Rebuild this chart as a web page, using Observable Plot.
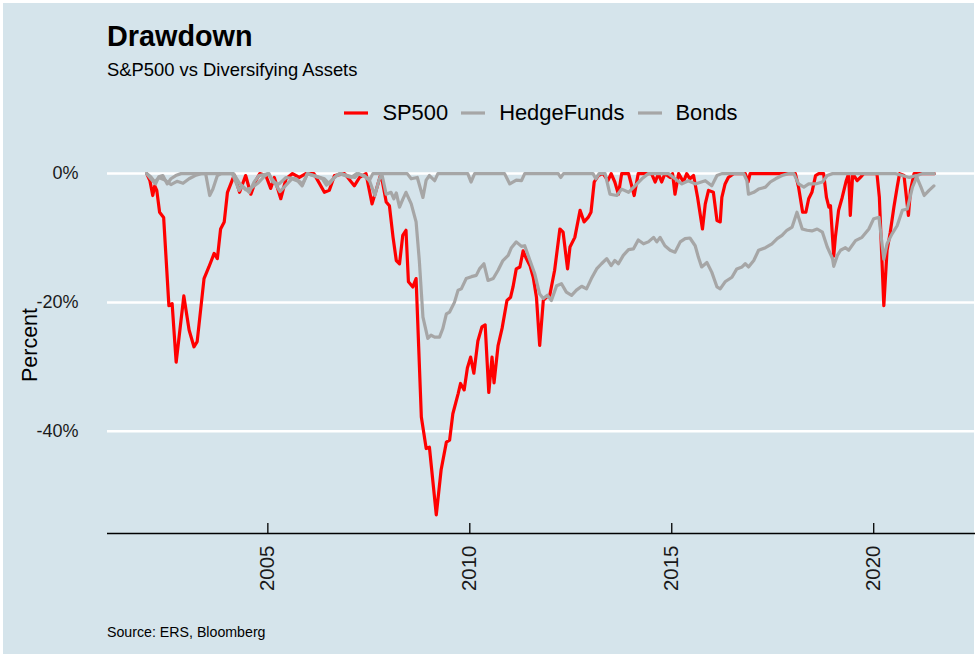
<!DOCTYPE html>
<html>
<head>
<meta charset="utf-8">
<script src="https://cdn.jsdelivr.net/npm/d3@7"></script>
<script src="https://cdn.jsdelivr.net/npm/@observablehq/plot@0.6"></script>
<style>
html, body { margin: 0; padding: 0; background: #ffffff; }
#wrap { position: relative; width: 977px; height: 657px; overflow: hidden; background: #ffffff;
  font-family: "Liberation Sans", Arial, Helvetica, sans-serif; color: #000; }
#bg { position: absolute; left: 3px; top: 3px; width: 971px; height: 651px; background: #d5e4eb; }
#title { position: absolute; left: 107px; top: 22px; font-size: 28.8px; line-height: 29px; font-weight: bold; white-space: nowrap; }
#subtitle { position: absolute; left: 107px; top: 59.5px; font-size: 18.4px; line-height: 19px; white-space: nowrap; }
#legend { position: absolute; left: 107px; top: 102px; width: 868px; height: 22px; display: flex;
  justify-content: center; align-items: center; font-size: 21.9px; line-height: 22px; }
#legend .key { width: 24px; height: 6px; margin-right: 14px; display: block; }
#legend .lab { margin-right: 13px; white-space: nowrap; }
#legend .lab:last-child { margin-right: 0; }
#chart { position: absolute; left: 0; top: 140px; }
#caption { position: absolute; left: 107px; top: 625px; font-size: 14.2px; line-height: 14px; white-space: nowrap; }
</style>
</head>
<body>
<div id="wrap">
  <div id="bg"></div>
  <div id="title">Drawdown</div>
  <div id="subtitle">S&amp;P500 vs Diversifying Assets</div>
  <div id="legend"></div>
  <div id="chart"></div>
  <div id="caption">Source: ERS, Bloomberg</div>
</div>
<script>
// ---- Data (decimal years, drawdown in percent) ----
const seriesNames = ["SP500", "HedgeFunds", "Bonds"];
const seriesColors = ["#ff0000", "#a6a6a6", "#a6a6a6"];

const sp500Dates = [2002.0,2002.08,2002.15,2002.2,2002.25,2002.32,2002.42,2002.55,2002.63,2002.73,2002.92,2003.05,2003.17,2003.25,2003.42,2003.54,2003.67,2003.75,2003.83,2003.92,2004.0,2004.17,2004.3,2004.45,2004.58,2004.7,2004.8,2004.95,2005.07,2005.16,2005.32,2005.45,2005.61,2005.78,2005.94,2006.14,2006.4,2006.52,2006.65,2006.9,2007.14,2007.27,2007.43,2007.58,2007.68,2007.8,2007.93,2008.01,2008.1,2008.18,2008.26,2008.34,2008.42,2008.48,2008.59,2008.67,2008.8,2008.92,2009.0,2009.17,2009.29,2009.42,2009.5,2009.58,2009.71,2009.77,2009.86,2009.94,2010.02,2010.1,2010.2,2010.3,2010.38,2010.47,2010.55,2010.6,2010.7,2010.8,2010.92,2011.01,2011.07,2011.15,2011.24,2011.32,2011.4,2011.49,2011.57,2011.65,2011.73,2011.82,2011.9,2011.98,2012.1,2012.23,2012.31,2012.42,2012.48,2012.6,2012.73,2012.83,2012.93,2013.0,2013.08,2013.18,2013.3,2013.42,2013.5,2013.59,2013.68,2013.76,2013.93,2014.07,2014.17,2014.5,2014.59,2014.67,2014.75,2014.83,2014.96,2015.02,2015.08,2015.17,2015.29,2015.37,2015.45,2015.54,2015.64,2015.76,2015.83,2015.91,2016.03,2016.12,2016.2,2016.24,2016.32,2016.4,2016.53,2016.82,2016.89,2016.94,2018.06,2018.14,2018.24,2018.32,2018.39,2018.47,2018.56,2018.64,2018.76,2018.83,2018.89,2018.93,2019.01,2019.05,2019.13,2019.22,2019.32,2019.38,2019.42,2019.48,2019.59,2019.67,2019.75,2020.08,2020.14,2020.25,2020.33,2020.41,2020.5,2020.58,2020.64,2020.75,2020.86,2020.91,2021.0,2021.5];
const sp500Values = [0,-1.1,-3.4,-1.9,-2.6,-6.0,-6.8,-20.5,-20.2,-29.3,-19.0,-24.3,-26.9,-26.1,-16.3,-14.5,-12.4,-13.2,-8.6,-7.5,-2.9,-0.2,-2.9,-0.3,-3.2,-1.1,0,-0.3,-2.3,-0.6,-3.9,-0.8,0,-0.6,0,0,-2.9,-2.6,-0.3,0,-1.9,-0.6,0,-4.7,-2.6,0,-4.4,-5.0,-9.9,-13.5,-14.0,-9.6,-8.8,-16.8,-17.6,-16.3,-37.8,-42.7,-42.5,-53.0,-46.0,-41.7,-41.4,-37.3,-34.2,-32.6,-33.6,-30.2,-28.5,-31.0,-26.0,-23.8,-23.5,-34.0,-28.5,-32.5,-26.7,-24.0,-19.7,-19.2,-17.6,-14.8,-14.5,-12.0,-13.2,-14.3,-16.1,-19.2,-26.7,-19.7,-19.2,-18.9,-15.0,-8.6,-9.1,-14.8,-11.4,-9.9,-5.7,-7.5,-6.8,-6.0,-1.3,-0.3,0,-1.1,0,-1.3,-3.2,0,0,-3.4,0,0,-1.3,0,-1.3,0,-0.6,0,-3.2,0,-1.3,0,-0.8,-0.3,-3.7,-8.6,-4.7,-2.6,-2.9,-7.3,-7.5,-3.7,-1.6,-0.6,0,0,-1.3,0,0,-2.1,-6.0,-6.0,-3.9,-2.9,-0.3,0,0,-3.7,-5.2,-5.0,-12.8,-9.9,-5.7,-3.7,-1.1,0,-6.5,0,-1.1,-0.6,0,0,-3.7,-20.5,-11.9,-9.1,-5.2,-2.1,0,-0.3,-6.5,-2.6,0,0];

const hedgeDates = [2002.0,2002.1,2002.2,2002.3,2002.45,2002.6,2002.75,2002.9,2003.05,2003.2,2003.35,2004.15,2004.3,2004.45,2004.6,2004.75,2004.9,2005.0,2005.15,2005.3,2005.45,2005.6,2005.75,2005.85,2005.98,2006.35,2006.45,2006.55,2006.7,2006.8,2007.15,2007.25,2007.5,2007.65,2007.75,2007.82,2007.93,2008.05,2008.12,2008.18,2008.26,2008.34,2008.42,2008.55,2008.67,2008.75,2008.84,2008.96,2009.04,2009.13,2009.25,2009.33,2009.42,2009.5,2009.62,2009.71,2009.79,2009.91,2010.04,2010.16,2010.24,2010.35,2010.45,2010.58,2010.7,2010.82,2010.95,2011.03,2011.15,2011.28,2011.36,2011.49,2011.61,2011.73,2011.82,2011.92,2012.02,2012.15,2012.27,2012.39,2012.52,2012.64,2012.77,2012.89,2013.01,2013.14,2013.26,2013.39,2013.5,2013.59,2013.68,2013.8,2013.93,2014.05,2014.17,2014.3,2014.42,2014.55,2014.63,2014.71,2014.83,2014.96,2015.08,2015.21,2015.33,2015.45,2015.58,2015.66,2015.74,2015.87,2015.99,2016.12,2016.2,2016.32,2016.49,2016.61,2016.74,2016.82,2016.9,2017.03,2017.15,2017.32,2017.48,2017.61,2017.73,2017.85,2017.98,2018.1,2018.23,2018.35,2018.47,2018.6,2018.73,2018.85,2018.98,2019.01,2019.1,2019.18,2019.3,2019.38,2019.55,2019.71,2019.88,2020.0,2020.13,2020.25,2020.33,2020.45,2020.58,2020.71,2020.83,2020.96,2021.08,2021.2,2021.5];
const hedgeValues = [0,-0.5,-1.3,-0.6,-1.0,-1.7,-1.2,-1.5,-0.8,-0.3,0,0,-1.5,-2.5,-2.2,-1.5,-0.5,0,-1.2,-2.8,-1.8,-0.8,-1.2,-1.9,0,-0.8,-1.8,-1.2,-0.3,0,-0.6,0,-0.8,-3.4,-1.0,0,-3.2,-2.9,-3.9,-3.0,-5.2,-4.0,-2.9,-4.7,-7.5,-13.5,-22.3,-25.6,-25.1,-25.4,-25.4,-24.1,-21.8,-21.5,-20.0,-18.1,-17.9,-16.3,-16.0,-15.8,-14.8,-14.0,-16.6,-16.3,-15.0,-13.5,-12.7,-11.5,-10.6,-11.3,-11.2,-13.5,-15.6,-18.7,-19.4,-18.9,-19.7,-17.4,-17.1,-18.4,-18.9,-18.1,-17.5,-17.9,-16.3,-14.8,-14.0,-13.2,-14.3,-13.5,-14.0,-12.7,-11.8,-11.7,-10.3,-10.9,-10.6,-9.9,-10.6,-9.9,-11.2,-11.9,-12.2,-10.6,-10.1,-10.0,-11.2,-13.0,-14.5,-13.8,-15.3,-17.6,-17.9,-16.8,-16.1,-14.8,-14.5,-14.0,-14.5,-13.5,-11.9,-11.5,-10.9,-10.1,-9.6,-8.8,-8.3,-6.0,-8.6,-8.8,-8.9,-8.6,-9.1,-11.4,-13.2,-14.4,-12.7,-11.9,-11.5,-11.9,-10.4,-9.9,-8.6,-7.0,-6.8,-13.3,-10.9,-9.4,-8.1,-5.7,-5.5,-2.1,-0.3,0,0];

const bondDates = [2002.0,2002.1,2002.22,2002.3,2002.4,2002.51,2002.6,2002.72,2002.85,2003.46,2003.56,2003.64,2003.75,2003.85,2004.12,2004.29,2004.37,2004.54,2004.66,2004.78,2005.03,2005.12,2005.28,2005.45,2005.7,2005.86,2005.98,2006.4,2006.52,2006.65,2006.77,2007.06,2007.2,2007.39,2007.51,2007.6,2008.45,2008.55,2008.7,2008.84,2008.92,2009.0,2009.13,2009.21,2009.95,2010.03,2010.12,2010.86,2010.99,2011.15,2011.28,2011.36,2012.19,2012.25,2012.32,2013.05,2013.12,2013.2,2013.35,2013.47,2013.64,2013.76,2013.93,2014.09,2014.26,2014.42,2014.92,2015.08,2015.25,2015.41,2015.58,2015.83,2015.99,2016.12,2016.24,2016.78,2016.86,2016.9,2017.03,2017.15,2017.32,2017.44,2017.57,2017.73,2017.89,2018.02,2018.14,2018.27,2018.39,2018.56,2018.73,2018.85,2018.98,2020.54,2020.71,2020.88,2021.05,2021.17,2021.25,2021.37,2021.49];
const bondValues = [0,-0.8,-1.6,-0.5,-0.3,-1.6,-0.8,-0.3,0,0,-3.4,-2.4,-0.3,0,0,-2.6,-1.9,-2.9,-1.3,-0.3,0,-1.3,-1.6,-0.6,-0.8,-1.6,0,-0.8,-1.6,-0.6,0,-0.6,0,-0.3,-1.1,0,0,-0.8,-0.6,-3.7,-1.0,-0.3,-1.1,0,0,-1.3,0,0,-1.6,-1.0,-1.1,0,0,-0.6,0,0,-0.8,0,0,-3.2,-3.4,-2.4,-2.9,-1.9,-0.8,0,0,-0.8,-1.6,-1.1,-1.6,-1.1,-1.9,-0.3,0,0,-1.1,-3.2,-2.9,-2.4,-2.1,-1.3,-0.8,-0.3,0,0,-1.6,-2.1,-1.6,-1.6,-1.3,-0.3,0,0,-0.3,-0.6,-0.3,-2.1,-3.4,-2.6,-1.9];

const xTicks = [2005, 2010, 2015, 2020];
const yTicks = [0, -20, -40];
const yTickLabels = ["0%", "-20%", "-40%"];

// ---- Build table ----
const table = [];
sp500Dates.forEach((d, i) => table.push({series: "SP500", year: d, value: sp500Values[i]}));
hedgeDates.forEach((d, i) => table.push({series: "HedgeFunds", year: d, value: hedgeValues[i]}));
bondDates.forEach((d, i) => table.push({series: "Bonds", year: d, value: bondValues[i]}));

// ---- Legend ----
const legend = document.getElementById("legend");
seriesNames.forEach((name, i) => {
  const ns = "http://www.w3.org/2000/svg";
  const svg = document.createElementNS(ns, "svg");
  svg.setAttribute("class", "key");
  svg.setAttribute("width", 24); svg.setAttribute("height", 6);
  const ln = document.createElementNS(ns, "line");
  ln.setAttribute("x1", 0); ln.setAttribute("x2", 24);
  ln.setAttribute("y1", 3); ln.setAttribute("y2", 3);
  ln.setAttribute("stroke", seriesColors[i]); ln.setAttribute("stroke-width", 3.2);
  svg.appendChild(ln);
  legend.appendChild(svg);
  const lab = document.createElement("span");
  lab.className = "lab"; lab.textContent = name;
  legend.appendChild(lab);
});

// ---- Plot ----
const W = 977, H = 480, mT = 16, mB = 87, mL = 107, mR = 2;
const innerH = H - mT - mB;
const yDomain = [-55.9, 2.66];

const chart = Plot.plot({
  width: W, height: H,
  marginTop: mT, marginBottom: mB, marginLeft: mL, marginRight: mR,
  style: {background: "transparent", fontFamily: "'Liberation Sans', Arial, sans-serif", fontSize: "18px", color: "#1a1a1a", overflow: "visible"},
  x: {domain: [2001.03, 2022.52], axis: null},
  y: {domain: yDomain, ticks: yTicks, tickFormat: (d) => yTickLabels[yTicks.indexOf(d)], tickSize: 0, tickPadding: 29, label: null},
  color: {domain: seriesNames, range: seriesColors},
  marks: [
    Plot.ruleY(yTicks, {stroke: "#ffffff", strokeWidth: 2.5}),
    Plot.ruleY([yDomain[0]], {stroke: "#000000", strokeWidth: 1.3}),
    Plot.ruleX(xTicks, {x: (d) => d, stroke: "#000000", strokeWidth: 1.3, insetTop: innerH - 10}),
    Plot.text(xTicks, {x: (d) => d, text: (d) => String(d), frameAnchor: "bottom", rotate: -90, textAnchor: "end", lineAnchor: "middle", dy: 12, fontSize: 20.5, fill: "#1a1a1a"}),
    Plot.text(["Percent"], {text: (d) => d, frameAnchor: "left", rotate: -90, textAnchor: "middle", lineAnchor: "middle", dx: -77, fontSize: 21.5, fill: "#000000"}),
    Plot.line(table, {x: "year", y: "value", z: "series", stroke: "series", strokeWidth: 3.2, strokeLinejoin: "round"})
  ]
});
document.getElementById("chart").appendChild(chart);
</script>
</body>
</html>
